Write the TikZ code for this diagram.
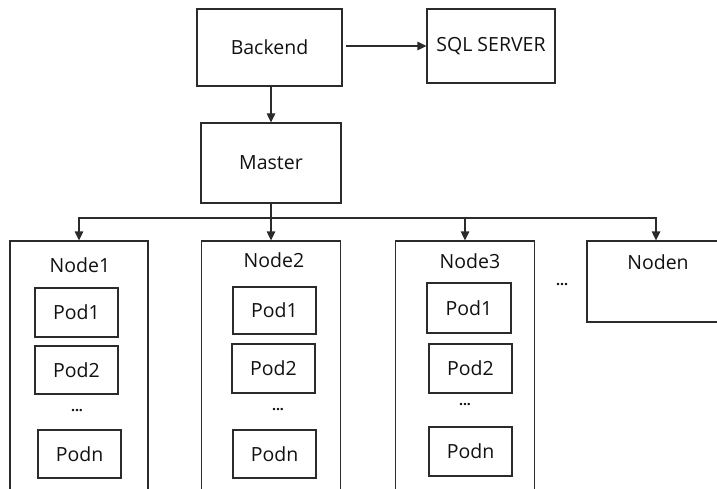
\documentclass[tikz,border=0pt]{standalone}
\usepackage{fontspec}
\setmainfont{Open Sans}
\usetikzlibrary{arrows.meta}
\definecolor{ln}{HTML}{2B2B2B}
\definecolor{tx}{HTML}{111111}
\tikzset{
  box/.style={draw=ln, line width=1.2pt, rectangle, inner sep=0pt, text=tx, font=\fontsize{19.5}{21}\selectfont},
  txt/.style={inner sep=0pt, text=tx, font=\fontsize{19.5}{21}\selectfont},
  dotsl/.style={inner sep=0pt, text=tx, font=\fontsize{14}{15}\selectfont\bfseries},
  arr/.style={draw=ln, line width=1.2pt, -{Triangle[length=9pt,width=8.5pt]}},
  ln/.style={draw=ln, line width=1.2pt}
}
\begin{document}
\begin{tikzpicture}[x=1pt,y=-1pt]
\useasboundingbox (0,0) rectangle (717,489);
\clip (0,0) rectangle (717,489);
% top
\node[box, minimum width=145pt, minimum height=77pt] (backend) at (269.5,47.5) {Backend};
\node[box, minimum width=128pt, minimum height=74pt] (sql) at (491,46) {SQL SERVER};
\node[box, minimum width=140pt, minimum height=80pt] (master) at (271,163) {Master};
\draw[arr, shorten <=3pt] (backend.east |- sql.west) -- (sql.west);
\draw[arr] (backend.south -| master.north) -- (master.north);
% worker nodes
\node[box, minimum width=138pt, minimum height=260pt] (n1) at (79,371) {};
\node[box, minimum width=139pt, minimum height=260pt] (n2) at (271,371) {};
\node[box, minimum width=139pt, minimum height=260pt] (n3) at (465,371) {};
\node[box, minimum width=138pt, minimum height=81pt] (nn) at (656,281.5) {};
\node[txt] (n1l) at (80,265) {Node1};
\node[txt] (n2l) at (274,260) {Node2};
\node[txt] (n3l) at (470,261) {Node3};
\node[txt] (nnl) at (658,262) {Noden};
% pods
\node[box, minimum width=83pt, minimum height=49pt] (p11) at (76.5,312.5) {Pod1};
\node[box, minimum width=83pt, minimum height=48pt] (p12) at (76.5,370) {Pod2};
\node[dotsl] (d1) at (77,411) {...};
\node[box, minimum width=83pt, minimum height=48pt] (p1n) at (79.5,454) {Podn};
\node[box, minimum width=83pt, minimum height=47pt] (p21) at (274.5,310.5) {Pod1};
\node[box, minimum width=83pt, minimum height=49pt] (p22) at (273.5,368.5) {Pod2};
\node[dotsl] (d2) at (278,410) {...};
\node[box, minimum width=83pt, minimum height=48pt] (p2n) at (274.5,454) {Podn};
\node[box, minimum width=84pt, minimum height=50pt] (p31) at (469,308) {Pod1};
\node[box, minimum width=83pt, minimum height=49pt] (p32) at (470.5,368.5) {Pod2};
\node[dotsl] (d3) at (465,405) {...};
\node[box, minimum width=83pt, minimum height=49pt] (p3n) at (470.5,451.5) {Podn};
\node[dotsl] (dn) at (562,285) {...};
% connectors
\coordinate (bus) at (271,218);
\draw[ln] (master.south) -- (bus);
\draw[arr] (bus) -- (n2.north);
\draw[arr] (bus) -| (n1.north);
\draw[arr] (bus) -| (n3.north);
\draw[arr] (bus) -| (nn.north);
\end{tikzpicture}
\end{document}
